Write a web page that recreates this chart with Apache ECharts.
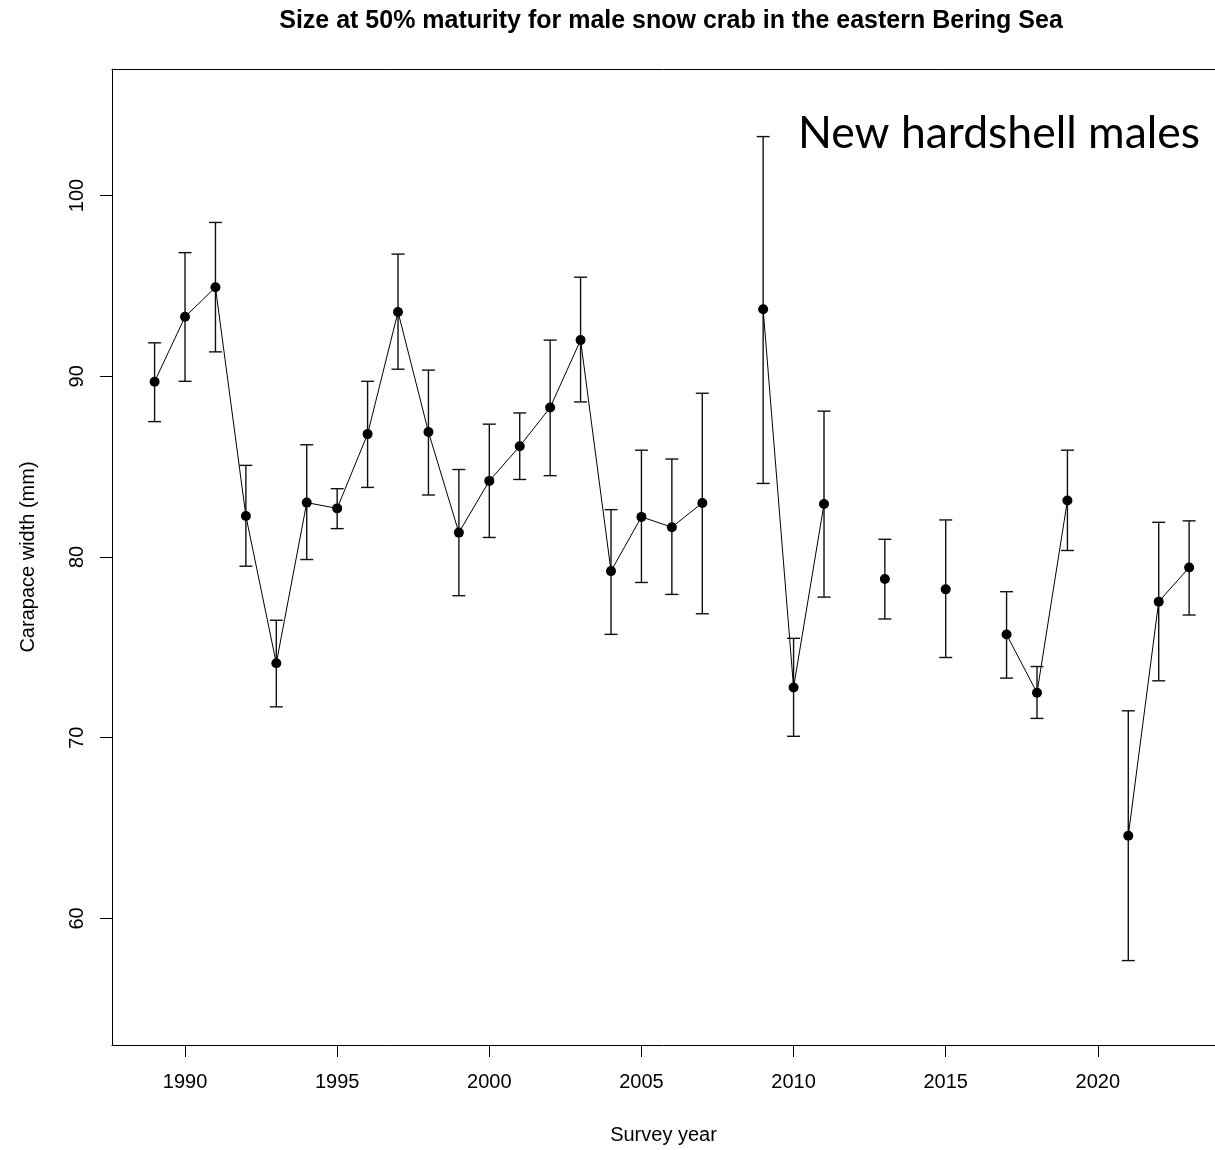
<!DOCTYPE html>
<html>
<head>
<meta charset="utf-8">
<script src="https://cdn.jsdelivr.net/npm/echarts@6/dist/echarts.min.js"></script>
<style>html,body{margin:0;padding:0;background:#fff;}#chart{width:1215px;height:1150px;}</style>
</head>
<body>
<div id="chart"></div>
<script>
const years = [1989,1990,1991,1992,1993,1994,1995,1996,1997,1998,1999,2000,2001,2002,2003,2004,2005,2006,2007,2009,2010,2011,2013,2015,2017,2018,2019,2021,2022,2023];
const size50 = [89.70,93.29,94.92,82.27,74.12,83.01,82.69,86.80,93.56,86.92,81.35,84.21,86.13,88.27,92.00,79.22,82.22,81.65,82.99,93.71,72.78,82.93,78.78,78.21,75.71,72.49,83.13,64.58,77.53,79.42];
const lower = [87.49,89.72,91.35,79.49,71.71,79.86,81.57,83.85,90.39,83.43,77.86,81.08,84.29,84.50,88.58,75.72,78.59,77.93,76.86,84.07,70.08,77.78,76.57,74.44,73.30,71.07,80.36,57.67,73.15,76.79];
const upper = [91.85,96.84,98.51,85.07,76.50,86.21,83.78,89.72,96.76,90.34,84.84,87.35,87.97,92.00,95.48,82.62,85.91,85.42,89.06,103.26,75.50,88.07,80.98,82.05,78.08,73.94,85.91,71.49,81.92,82.00];
const xTicks = [1990,1995,2000,2005,2010,2015,2020];
const yTicks = [60,70,80,90,100];
const titleText = 'Size at 50% maturity for male snow crab in the eastern Bering Sea';
const noteText = 'New hardshell males';
const xName = 'Survey year';
const yName = 'Carapace width (mm)';

// line data with breaks where survey years are missing
const lineData = [];
years.forEach((y, i) => {
  if (i > 0 && y - years[i - 1] > 1) lineData.push([y - 1, '-']);
  lineData.push([y, size50[i]]);
});
const errData = years.map((y, i) => [y, lower[i], upper[i]]);

const chart = echarts.init(document.getElementById('chart'), null, {renderer: 'canvas'});
const labelFont = 'Liberation Sans, Arial, sans-serif';
const XMIN = 1987.6, XMAX = 2023.85;
chart.setOption({
  animation: false,
  backgroundColor: '#fff',
  grid: {left: 112, top: 69, right: 0, height: 979, show: false, containLabel: false},
  graphic: [
    {type: 'text', x: 671, y: 21, style: {text: titleText, font: 'bold 25px Liberation Sans, Arial, sans-serif', fill: '#000', textAlign: 'center', verticalAlign: 'middle'}},
    {type: 'text', x: 798, y: 134, style: {text: noteText, font: '44.5px Lato, sans-serif', fill: '#000', textAlign: 'left', verticalAlign: 'middle'}}
  ],
  xAxis: [{
    type: 'value', min: XMIN, max: XMAX, position: 'bottom',
    axisLine: {show: true, onZero: false, lineStyle: {color: '#000', width: 1}},
    splitLine: {show: false},
    axisTick: {show: true, customValues: xTicks, length: 12, lineStyle: {color: '#000', width: 1}},
    axisLabel: {customValues: xTicks, fontSize: 20, fontFamily: labelFont, color: '#000', margin: 27, formatter: v => String(v)},
    name: xName, nameLocation: 'middle', nameGap: 80,
    nameTextStyle: {fontSize: 20, fontFamily: labelFont, color: '#000'}
  }, {
    type: 'value', min: XMIN, max: XMAX, position: 'top',
    axisLine: {show: true, onZero: false, lineStyle: {color: '#000', width: 1}},
    splitLine: {show: false}, axisTick: {show: false}, axisLabel: {show: false}
  }],
  yAxis: {
    type: 'value', min: 53, max: 107,
    axisLine: {show: true, onZero: false, lineStyle: {color: '#000', width: 1}},
    splitLine: {show: false},
    axisTick: {show: true, customValues: yTicks, length: 12, lineStyle: {color: '#000', width: 1}},
    axisLabel: {customValues: yTicks, fontSize: 20, fontFamily: labelFont, color: '#000', margin: 25, rotate: 90},
    name: yName, nameLocation: 'middle', nameGap: 74, nameRotate: 90,
    nameTextStyle: {fontSize: 20, fontFamily: labelFont, color: '#000'}
  },
  series: [
    {
      type: 'custom',
      data: errData,
      z: 2,
      renderItem: function (params, api) {
        const x = api.value(0);
        const lo = api.coord([x, api.value(1)]);
        const hi = api.coord([x, api.value(2)]);
        const h = 6.5;
        const st = {stroke: '#111', lineWidth: 1.4};
        return {
          type: 'group',
          children: [
            {type: 'line', shape: {x1: lo[0], y1: lo[1], x2: hi[0], y2: hi[1]}, style: st},
            {type: 'line', shape: {x1: lo[0] - h, y1: lo[1], x2: lo[0] + h, y2: lo[1]}, style: st},
            {type: 'line', shape: {x1: hi[0] - h, y1: hi[1], x2: hi[0] + h, y2: hi[1]}, style: st}
          ]
        };
      }
    },
    {
      type: 'line',
      data: lineData,
      z: 3,
      connectNulls: false,
      symbol: 'circle', symbolSize: 10, showSymbol: true, showAllSymbol: true,
      itemStyle: {color: '#000'},
      lineStyle: {color: '#000', width: 1}
    }
  ]
});
</script>
</body>
</html>
